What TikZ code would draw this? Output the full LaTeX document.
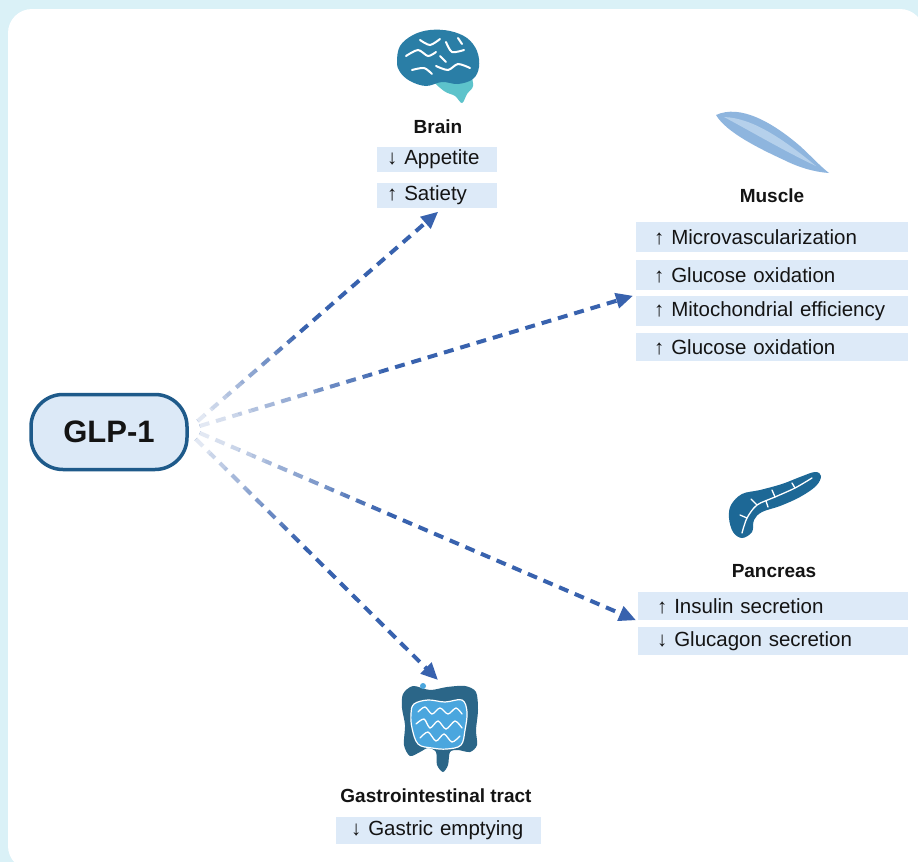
\documentclass[tikz,border=0pt]{standalone}
\usepackage{fontspec}
\setmainfont{Liberation Sans}
\usetikzlibrary{arrows.meta,calc}

\definecolor{bgcyan}{HTML}{DAF1F7}
\definecolor{boxfill}{HTML}{DDEAF8}
\definecolor{textdark}{HTML}{141414}
\definecolor{arrowblue}{HTML}{3862AE}
\definecolor{glpborder}{HTML}{1E5A8A}
\definecolor{glpfill}{HTML}{DCE9F7}
\definecolor{brainc}{HTML}{2A7EA6}
\definecolor{brainlight}{HTML}{5DC3CB}
\definecolor{musclec}{HTML}{8EB5DE}
\definecolor{musclelight}{HTML}{B5D0EB}
\definecolor{pancreasc}{HTML}{1D6896}
\definecolor{gidark}{HTML}{2B6688}
\definecolor{gilight}{HTML}{4AA6DE}

\tikzset{
  lbl/.style={fill=boxfill, text=textdark, anchor=west, align=left,
    font=\fontsize{20.5}{23}\selectfont, inner ysep=0pt},
  heading/.style={text=textdark, font=\bfseries\fontsize{19}{22}\selectfont},
  glpnode/.style={draw=glpborder, line width=3.5pt, fill=glpfill,
    rounded corners=32pt, minimum width=156pt, minimum height=75pt,
    text=textdark, font=\bfseries\fontsize{31}{36}\selectfont},
  flow/.style={draw=arrowblue, line width=4pt, dash pattern=on 10pt off 7pt,
    -{Triangle[length=17pt,width=15pt]}},
  sulcus/.style={white, line width=2pt, line cap=round},
  vein/.style={white, line width=1.3pt, line cap=round},
}

% white veil over the first part of a connector, thinning out step by step
\newcommand\fadeveil[2]{%
  \foreach \i in {0,...,13} {%
    \pgfmathsetmacro\ta{\i*0.03}%
    \pgfmathsetmacro\tb{(\i+1)*0.03}%
    \pgfmathsetmacro\op{0.86*(1-\i/14)}%
    \draw[white, line width=6pt, opacity=\op] ($(#1)!\ta!(#2)$) -- ($(#1)!\tb!(#2)$);
  }%
}

\begin{document}
\begin{tikzpicture}[x=1pt,y=-1pt]
\useasboundingbox (0,0) rectangle (918,862);

% panel background
\begin{scope}
  \clip (0,0) rectangle (918,862);
  \fill[bgcyan] (0,0) rectangle (918,862);
  \fill[white, rounded corners=24pt] (8,9) rectangle (924,870);
\end{scope}

% ---------- brain icon ----------
\fill[brainlight] plot[smooth cycle, tension=0.6] coordinates
  {(434,80) (452,77) (469,75) (473,86) (467,94) (462,103) (455,96) (444,91)};
\fill[brainc] plot[smooth cycle, tension=0.6] coordinates
  {(397,62) (400,46) (413,35) (430,30) (450,31) (467,38) (477,51) (479,67)
   (473,79) (458,84) (442,82) (426,86) (410,81) (400,72)};
\draw[sulcus] plot[smooth] coordinates {(406,56) (418,50) (428,56) (436,52)};
\draw[sulcus] plot[smooth] coordinates {(420,40) (430,45) (440,39)};
\draw[sulcus] plot[smooth] coordinates {(446,42) (452,52) (464,50)};
\draw[sulcus] plot[smooth] coordinates {(436,66) (448,70) (458,64) (470,68)};
\draw[sulcus] plot[smooth] coordinates {(412,70) (424,68) (432,74)};
\draw[sulcus] plot[smooth] coordinates {(440,56) (446,62)};
\draw[sulcus] plot[smooth] coordinates {(458,38) (462,44)};

% ---------- muscle icon ----------
\fill[musclec] (716,115) .. controls (740,104) and (772,122) .. (800,146)
  .. controls (812,157) and (820,166) .. (829,173)
  .. controls (815,172) and (800,168) .. (784,160)
  .. controls (758,148) and (726,132) .. cycle;
\fill[musclelight] (724,117) .. controls (752,118) and (782,138) .. (816,166)
  .. controls (786,152) and (752,132) .. cycle;

% ---------- pancreas icon ----------
\fill[pancreasc] plot[smooth cycle, tension=0.6] coordinates
  {(731,505) (742,494) (760,490) (782,484) (800,477) (815,472) (821,476)
   (816,486) (800,497) (780,506) (762,512) (754,520) (752,532) (742,538)
   (733,532) (729,518)};
\draw[vein] plot[smooth] coordinates {(742,533) (747,518) (757,505) (775,497) (795,488) (812,478)};
\draw[vein] (757,505) -- (751,499);
\draw[vein] (775,497) -- (772,490);
\draw[vein] (795,488) -- (792,483);
\draw[vein] (747,518) -- (740,515);
\draw[vein] (766,501) -- (768,507);

% ---------- gastrointestinal icon ----------
\fill[gidark] plot[smooth cycle, tension=0.5] coordinates
  {(403,694) (413,686) (430,690) (447,687) (465,686) (476,692) (478,710)
   (476,730) (477,745) (470,752) (458,750) (450,752) (448,765) (443,772)
   (437,765) (436,752) (428,748) (420,752) (410,756) (404,745) (405,725)
   (402,708)};
\filldraw[gilight, draw=white, line width=1.2pt] plot[smooth cycle, tension=0.6] coordinates
  {(414,704) (428,700) (445,702) (462,700) (467,712) (465,730) (461,745)
   (447,749) (432,748) (418,744) (412,728) (411,714)};
\draw[vein] plot[smooth] coordinates {(418,712) (425,707) (432,714) (440,708) (448,714) (456,708) (462,714)};
\draw[vein] plot[smooth] coordinates {(416,724) (424,719) (430,728) (438,721) (446,729) (455,721) (462,728)};
\draw[vein] plot[smooth] coordinates {(420,738) (428,732) (436,741) (444,734) (452,742) (460,736)};
\fill[gilight] (423,686) circle (3pt);

% ---------- central node ----------
\node[glpnode] (glp) at (109,432) {GLP-1};

% ---------- organ headings and effects ----------
\node[heading] (brain) at (438,127) {Brain};
\node[lbl, minimum height=25pt, text width=100pt, inner xsep=10pt] (app) at (377,159) {↓ Appetite};
\node[lbl, minimum height=25pt, text width=100pt, inner xsep=10pt] (sat) at (377,195) {↑ Satiety};

\node[heading] (muscle) at (772,196) {Muscle};
\node[lbl, minimum height=30pt, text width=236pt, inner xsep=18pt] (micro) at (636,237) {↑ Microvascularization};
\node[lbl, minimum height=30pt, text width=236pt, inner xsep=18pt] (gluA) at (636,275) {↑ Glucose oxidation};
\node[lbl, minimum height=30pt, text width=236pt, inner xsep=18pt] (mito) at (636,311) {↑ Mitochondrial efficiency};
\node[lbl, minimum height=28pt, text width=236pt, inner xsep=18pt] (gluB) at (636,347) {↑ Glucose oxidation};

\node[heading] (pancreas) at (774,571) {Pancreas};
\node[lbl, minimum height=28pt, text width=232pt, inner xsep=19pt] (ins) at (638,606) {↑ Insulin secretion};
\node[lbl, minimum height=28pt, text width=232pt, inner xsep=19pt] (gcg) at (638,641) {↓ Glucagon secretion};

\node[heading] (gi) at (436,796) {Gastrointestinal tract};
\node[lbl, minimum height=27pt, text width=175pt, inner xsep=15pt] (gastric) at (336,830) {↓ Gastric emptying};

% ---------- connectors ----------
\coordinate (sBrain) at ([xshift=9pt,yshift=11pt]glp.east);
\coordinate (sMuscle) at ([xshift=11pt,yshift=6pt]glp.east);
\coordinate (sPanc) at ([xshift=11pt,yshift=-1pt]glp.east);
\coordinate (sGi) at ([xshift=7pt,yshift=-7pt]glp.east);
\coordinate (tBrain) at ([xshift=1pt,yshift=-4pt]sat.south);
\coordinate (tMuscle) at ([xshift=-3pt]mito.north west);
\coordinate (tPanc) at ([xshift=-2pt]ins.south west);
\coordinate (tGi) at (438,680);

\draw[flow] (sBrain) -- (tBrain);
\draw[flow] (sMuscle) -- (tMuscle);
\draw[flow] (sPanc) -- (tPanc);
\draw[flow] (sGi) -- (tGi);

\fadeveil{sBrain}{tBrain}
\fadeveil{sMuscle}{tMuscle}
\fadeveil{sPanc}{tPanc}
\fadeveil{sGi}{tGi}
\end{tikzpicture}
\end{document}
